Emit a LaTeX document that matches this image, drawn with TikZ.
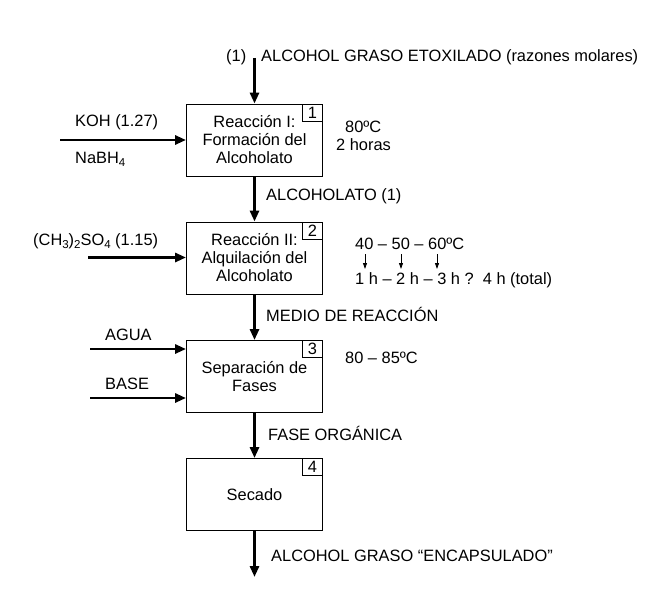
\documentclass[tikz,border=0pt]{standalone}
\usepackage{fontspec}
\setmainfont{Liberation Sans}
\usetikzlibrary{arrows.meta}
\newcommand{\sbs}[1]{\raisebox{-0.35ex}{\fontsize{11.5}{11.5}\selectfont #1}}
\begin{document}
\begin{tikzpicture}[x=1pt,y=-1pt,
  every node/.style={font=\fontsize{16.4}{18}\selectfont, inner sep=0pt},
  proc/.style={draw, line width=0.9pt, minimum width=136pt, minimum height=72pt, align=center},
  numbox/.style={draw, line width=0.9pt, minimum width=20pt, minimum height=17pt, anchor=north east},
  flow/.style={line width=2.8pt, -{Triangle[length=11pt,width=9pt]}},
  thin/.style={line width=0.8pt, -{Triangle[length=6pt,width=4pt]}},
  lbl/.style={anchor=west}]
\useasboundingbox (0,0) rectangle (655,599);
\node[proc] (b1) at (254.5,140) {Reacción I:\\Formación del\\Alcoholato};
\node[proc] (b2) at (254.5,258) {Reacción II:\\Alquilación del\\Alcoholato};
\node[proc] (b3) at (254.5,376.5) {Separación de\\Fases};
\node[proc] (b4) at (254.5,494.5) {Secado};
\node[numbox] (n1) at (b1.north east) {1};
\node[numbox] (n2) at (b2.north east) {2};
\node[numbox] (n3) at (b3.north east) {3};
\node[numbox] (n4) at (b4.north east) {4};
% main flow
\coordinate (top) at (254.5,58);
\coordinate (bot) at (254.5,577);
\draw[flow] (top) -- (b1.north);
\draw[flow] (b1.south) -- (b2.north);
\draw[flow] (b2.south) -- (b3.north);
\draw[flow] (b3.south) -- (b4.north);
\draw[flow] (b4.south) -- (bot);
\node[lbl] (t0) at (226,57) {(1)};
\node[lbl] (t1) at (261,57) {ALCOHOL GRASO ETOXILADO (razones molares)};
\node[lbl] (t2) at (266,196) {ALCOHOLATO (1)};
\node[lbl] (t3) at (266,314) {MEDIO DE REACCIÓN};
\node[lbl] (t4) at (268,433) {FASE ORGÁNICA};
\node[lbl] (t5) at (271,556) {ALCOHOL GRASO “ENCAPSULADO”};
% inputs
\coordinate (koh) at (60,140);
\draw[flow] (koh) -- (b1.west);
\node[lbl] (kohl) at (75,122) {KOH (1.27)};
\node[lbl] (nab) at (75,159) {NaBH\sbs{4}};
\coordinate (dms) at (88,257.5);
\draw[flow] (dms) -- (b2.west |- dms);
\node[lbl] (dmsl) at (33,241) {(CH\sbs{3})\sbs{2}SO\sbs{4} (1.15)};
\coordinate (agua) at (90,349);
\draw[flow] (agua) -- (b3.west |- agua);
\node[lbl] (agual) at (105,335) {AGUA};
\coordinate (base) at (90,398);
\draw[flow] (base) -- (b3.west |- base);
\node[lbl] (basel) at (105,384) {BASE};
% conditions
\node[lbl] (c1) at (345,127) {80ºC};
\node[lbl] (c2) at (336,145) {2 horas};
\node[lbl] (c3) at (355,244) {40 – 50 – 60ºC};
\node[lbl] (c4) at (355,280) {1 h – 2 h – 3 h ?\ \ 4 h (total)};
\node[lbl] (c5) at (345,358) {80 – 85ºC};
\coordinate (a1) at (365,254); \coordinate (a1e) at (365,269);
\coordinate (a2) at (401,254); \coordinate (a2e) at (401,269);
\coordinate (a3) at (437,254); \coordinate (a3e) at (437,269);
\draw[thin] (a1) -- (a1e);
\draw[thin] (a2) -- (a2e);
\draw[thin] (a3) -- (a3e);
\end{tikzpicture}
\end{document}
